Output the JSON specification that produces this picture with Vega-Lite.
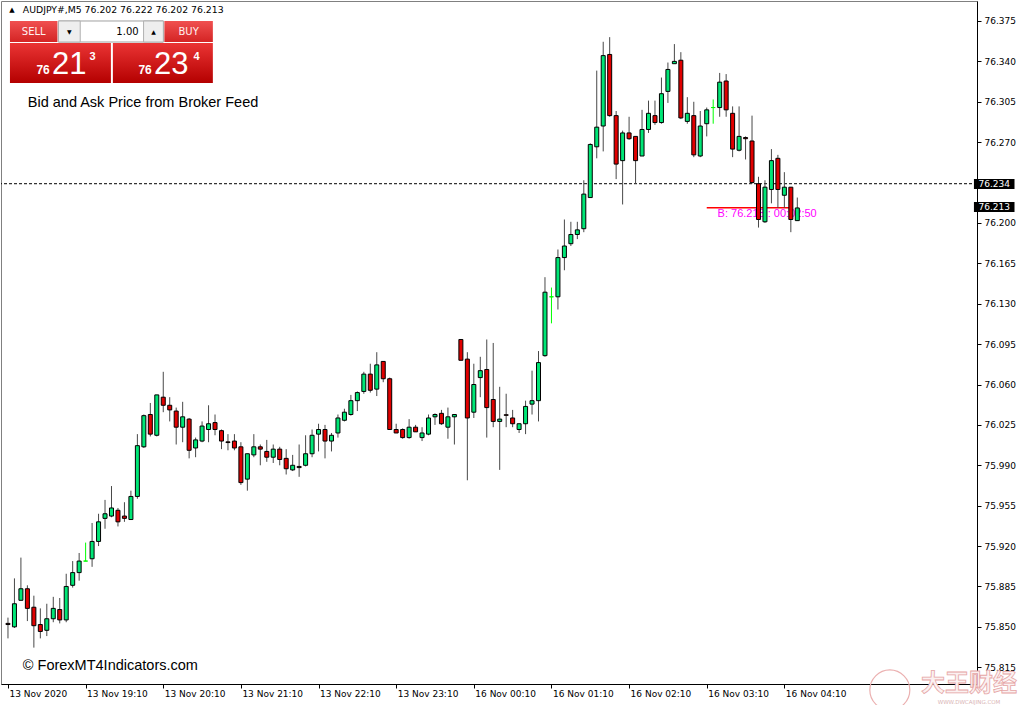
{
  "$schema": "https://vega.github.io/schema/vega-lite/v6.json",
  "width": 976,
  "height": 683,
  "autosize": "none",
  "padding": {"left": 1, "top": 1, "right": 47, "bottom": 21},
  "background": "white",
  "config": {
    "view": {"stroke": "#808080", "strokeWidth": 1},
    "font": "DejaVu Sans",
    "axis": {"labelFont": "DejaVu Sans", "labelFontSize": 9, "labelColor": "black", "domainColor": "black", "tickColor": "black", "grid": false, "title": null}
  },
  "data": {"values": [
    {"i":0,"o":75.853,"h":75.858,"l":75.840,"c":75.852},
    {"i":1,"o":75.850,"h":75.892,"l":75.849,"c":75.870},
    {"i":2,"o":75.873,"h":75.910,"l":75.873,"c":75.883},
    {"i":3,"o":75.883,"h":75.886,"l":75.855,"c":75.866},
    {"i":4,"o":75.867,"h":75.877,"l":75.832,"c":75.851},
    {"i":5,"o":75.852,"h":75.866,"l":75.840,"c":75.846},
    {"i":6,"o":75.847,"h":75.870,"l":75.842,"c":75.857},
    {"i":7,"o":75.857,"h":75.876,"l":75.854,"c":75.866},
    {"i":8,"o":75.865,"h":75.875,"l":75.853,"c":75.856},
    {"i":9,"o":75.856,"h":75.896,"l":75.854,"c":75.885},
    {"i":10,"o":75.886,"h":75.907,"l":75.884,"c":75.897},
    {"i":11,"o":75.897,"h":75.914,"l":75.890,"c":75.907},
    {"i":12,"o":75.907,"h":75.923,"l":75.907,"c":75.907},
    {"i":13,"o":75.909,"h":75.940,"l":75.902,"c":75.924},
    {"i":14,"o":75.924,"h":75.948,"l":75.920,"c":75.941},
    {"i":15,"o":75.944,"h":75.960,"l":75.935,"c":75.948},
    {"i":16,"o":75.946,"h":75.972,"l":75.945,"c":75.953},
    {"i":17,"o":75.951,"h":75.953,"l":75.937,"c":75.941},
    {"i":18,"o":75.946,"h":75.958,"l":75.941,"c":75.944},
    {"i":19,"o":75.943,"h":75.968,"l":75.943,"c":75.963},
    {"i":20,"o":75.963,"h":76.017,"l":75.961,"c":76.007},
    {"i":21,"o":76.006,"h":76.034,"l":76.005,"c":76.033},
    {"i":22,"o":76.034,"h":76.044,"l":76.015,"c":76.017},
    {"i":23,"o":76.016,"h":76.051,"l":76.015,"c":76.051},
    {"i":24,"o":76.049,"h":76.071,"l":76.036,"c":76.042},
    {"i":25,"o":76.042,"h":76.049,"l":76.028,"c":76.038},
    {"i":26,"o":76.037,"h":76.040,"l":76.008,"c":76.023},
    {"i":27,"o":76.023,"h":76.045,"l":76.010,"c":76.032},
    {"i":28,"o":76.030,"h":76.031,"l":75.996,"c":76.003},
    {"i":29,"o":76.005,"h":76.014,"l":75.997,"c":76.012},
    {"i":30,"o":76.011,"h":76.028,"l":76.010,"c":76.024},
    {"i":31,"o":76.021,"h":76.042,"l":76.010,"c":76.026},
    {"i":32,"o":76.027,"h":76.034,"l":76.016,"c":76.021},
    {"i":33,"o":76.020,"h":76.021,"l":76.004,"c":76.011},
    {"i":34,"o":76.0103,"h":76.017,"l":76.003,"c":76.0097},
    {"i":35,"o":76.011,"h":76.017,"l":76.003,"c":76.005},
    {"i":36,"o":76.006,"h":76.010,"l":75.973,"c":75.975},
    {"i":37,"o":75.978,"h":76.000,"l":75.968,"c":76.000},
    {"i":38,"o":75.999,"h":76.017,"l":75.997,"c":76.006},
    {"i":39,"o":76.006,"h":76.008,"l":75.990,"c":76.004},
    {"i":40,"o":76.002,"h":76.012,"l":75.993,"c":75.997},
    {"i":41,"o":75.997,"h":76.008,"l":75.992,"c":76.004},
    {"i":42,"o":76.004,"h":76.006,"l":75.990,"c":75.995},
    {"i":43,"o":75.996,"h":76.004,"l":75.982,"c":75.987},
    {"i":44,"o":75.986,"h":75.999,"l":75.985,"c":75.990},
    {"i":45,"o":75.989,"h":76.008,"l":75.980,"c":75.988},
    {"i":46,"o":75.990,"h":76.016,"l":75.989,"c":76.000},
    {"i":47,"o":76.000,"h":76.021,"l":75.997,"c":76.016},
    {"i":48,"o":76.017,"h":76.026,"l":76.002,"c":76.021},
    {"i":49,"o":76.021,"h":76.025,"l":75.996,"c":76.011},
    {"i":50,"o":76.011,"h":76.018,"l":76.002,"c":76.016},
    {"i":51,"o":76.018,"h":76.034,"l":76.014,"c":76.031},
    {"i":52,"o":76.029,"h":76.039,"l":76.028,"c":76.036},
    {"i":53,"o":76.034,"h":76.051,"l":76.033,"c":76.046},
    {"i":54,"o":76.046,"h":76.054,"l":76.037,"c":76.053},
    {"i":55,"o":76.054,"h":76.071,"l":76.052,"c":76.069},
    {"i":56,"o":76.069,"h":76.078,"l":76.053,"c":76.055},
    {"i":57,"o":76.056,"h":76.088,"l":76.050,"c":76.077},
    {"i":58,"o":76.080,"h":76.080,"l":76.062,"c":76.065},
    {"i":59,"o":76.065,"h":76.066,"l":76.021,"c":76.021},
    {"i":60,"o":76.021,"h":76.026,"l":76.018,"c":76.018},
    {"i":61,"o":76.021,"h":76.022,"l":76.013,"c":76.014},
    {"i":62,"o":76.014,"h":76.030,"l":76.013,"c":76.023},
    {"i":63,"o":76.023,"h":76.025,"l":76.019,"c":76.019},
    {"i":64,"o":76.014,"h":76.023,"l":76.011,"c":76.018},
    {"i":65,"o":76.017,"h":76.034,"l":76.016,"c":76.031},
    {"i":66,"o":76.032,"h":76.035,"l":76.025,"c":76.034},
    {"i":67,"o":76.035,"h":76.038,"l":76.025,"c":76.026},
    {"i":68,"o":76.023,"h":76.040,"l":76.013,"c":76.032},
    {"i":69,"o":76.032,"h":76.034,"l":76.008,"c":76.034},
    {"i":70,"o":76.099,"h":76.099,"l":76.081,"c":76.081},
    {"i":71,"o":76.082,"h":76.088,"l":75.977,"c":76.031},
    {"i":72,"o":76.036,"h":76.078,"l":76.031,"c":76.060},
    {"i":73,"o":76.066,"h":76.084,"l":76.049,"c":76.072},
    {"i":74,"o":76.073,"h":76.099,"l":76.014,"c":76.040},
    {"i":75,"o":76.047,"h":76.096,"l":76.023,"c":76.028},
    {"i":76,"o":76.028,"h":76.058,"l":75.986,"c":76.030},
    {"i":77,"o":76.0338,"h":76.052,"l":76.023,"c":76.0333},
    {"i":78,"o":76.031,"h":76.038,"l":76.023,"c":76.026},
    {"i":79,"o":76.021,"h":76.026,"l":76.018,"c":76.026},
    {"i":80,"o":76.026,"h":76.046,"l":76.017,"c":76.041},
    {"i":81,"o":76.043,"h":76.072,"l":76.034,"c":76.046},
    {"i":82,"o":76.046,"h":76.089,"l":76.028,"c":76.079},
    {"i":83,"o":76.085,"h":76.153,"l":76.084,"c":76.140},
    {"i":84,"o":76.136,"h":76.144,"l":76.113,"c":76.136},
    {"i":85,"o":76.136,"h":76.177,"l":76.125,"c":76.170},
    {"i":86,"o":76.170,"h":76.203,"l":76.159,"c":76.180},
    {"i":87,"o":76.182,"h":76.201,"l":76.180,"c":76.190},
    {"i":88,"o":76.190,"h":76.201,"l":76.186,"c":76.194},
    {"i":89,"o":76.195,"h":76.237,"l":76.192,"c":76.225},
    {"i":90,"o":76.222,"h":76.269,"l":76.222,"c":76.268},
    {"i":91,"o":76.266,"h":76.332,"l":76.256,"c":76.283},
    {"i":92,"o":76.284,"h":76.357,"l":76.262,"c":76.345},
    {"i":93,"o":76.346,"h":76.361,"l":76.292,"c":76.293},
    {"i":94,"o":76.293,"h":76.297,"l":76.238,"c":76.251},
    {"i":95,"o":76.254,"h":76.280,"l":76.216,"c":76.278},
    {"i":96,"o":76.278,"h":76.292,"l":76.272,"c":76.273},
    {"i":97,"o":76.275,"h":76.275,"l":76.234,"c":76.254},
    {"i":98,"o":76.258,"h":76.298,"l":76.258,"c":76.281},
    {"i":99,"o":76.281,"h":76.306,"l":76.278,"c":76.295},
    {"i":100,"o":76.293,"h":76.306,"l":76.285,"c":76.287},
    {"i":101,"o":76.287,"h":76.326,"l":76.286,"c":76.312},
    {"i":102,"o":76.314,"h":76.339,"l":76.304,"c":76.333},
    {"i":103,"o":76.338,"h":76.355,"l":76.338,"c":76.340},
    {"i":104,"o":76.341,"h":76.348,"l":76.290,"c":76.291},
    {"i":105,"o":76.288,"h":76.309,"l":76.286,"c":76.295},
    {"i":106,"o":76.293,"h":76.305,"l":76.257,"c":76.259},
    {"i":107,"o":76.258,"h":76.297,"l":76.257,"c":76.284},
    {"i":108,"o":76.286,"h":76.300,"l":76.275,"c":76.298},
    {"i":109,"o":76.300,"h":76.307,"l":76.286,"c":76.300},
    {"i":110,"o":76.300,"h":76.330,"l":76.292,"c":76.322},
    {"i":111,"o":76.323,"h":76.329,"l":76.292,"c":76.298},
    {"i":112,"o":76.295,"h":76.301,"l":76.257,"c":76.264},
    {"i":113,"o":76.263,"h":76.301,"l":76.262,"c":76.275},
    {"i":114,"o":76.274,"h":76.275,"l":76.255,"c":76.273},
    {"i":115,"o":76.271,"h":76.293,"l":76.234,"c":76.235},
    {"i":116,"o":76.234,"h":76.240,"l":76.196,"c":76.203},
    {"i":117,"o":76.201,"h":76.237,"l":76.200,"c":76.231},
    {"i":118,"o":76.229,"h":76.264,"l":76.217,"c":76.254},
    {"i":119,"o":76.256,"h":76.259,"l":76.213,"c":76.229},
    {"i":120,"o":76.224,"h":76.244,"l":76.213,"c":76.231},
    {"i":121,"o":76.231,"h":76.231,"l":76.192,"c":76.203},
    {"i":122,"o":76.202,"h":76.222,"l":76.202,"c":76.213}
  ]},
  "layer": [
    {
      "data": {"values": [{}]},
      "mark": {"type": "rule", "color": "black", "strokeWidth": 1, "strokeDash": [3, 2]},
      "encoding": {"y": {"datum": 76.234, "type": "quantitative"}}
    },
    {
      "data": {"values": [{}]},
      "mark": {"type": "rule", "color": "#ff0000", "strokeWidth": 1.5},
      "encoding": {
        "x": {"datum": 108.0, "type": "quantitative"},
        "x2": {"datum": 121.2},
        "y": {"datum": 76.2132, "type": "quantitative"}
      }
    },
    {
      "data": {"values": [{}]},
      "mark": {"type": "text", "text": "B: 76.213 : 00:02:50", "font": "Liberation Sans", "fontSize": 11, "color": "#ff00ff", "align": "left", "baseline": "middle"},
      "encoding": {
        "x": {"datum": 109.68, "type": "quantitative"},
        "y": {"datum": 76.2078, "type": "quantitative"}
      }
    },
    {
      "mark": {"type": "rule", "strokeWidth": 1},
      "encoding": {
        "x": {
          "field": "i", "type": "quantitative",
          "scale": {"domain": [-0.306, 149.0], "nice": false, "zero": false},
          "axis": {
            "orient": "bottom",
            "values": [0, 12, 24, 36, 48, 60, 72, 84, 96, 108, 120],
            "labelExpr": "['13 Nov 2020','13 Nov 19:10','13 Nov 20:10','13 Nov 21:10','13 Nov 22:10','13 Nov 23:10','16 Nov 00:10','16 Nov 01:10','16 Nov 02:10','16 Nov 03:10','16 Nov 04:10'][round(datum.value/12)]",
            "labelAlign": "left",
            "labelBaseline": "top",
            "labelPadding": 1,
            "labelOffset": 1,
            "tickSize": 4,
            "labelOverlap": false,
            "labelFlush": false,
            "labelBound": false
          }
        },
        "y": {
          "field": "l", "type": "quantitative",
          "scale": {"domain": [75.80047, 76.39233], "nice": false, "zero": false},
          "axis": {
            "orient": "right",
            "values": [75.815, 75.85, 75.885, 75.92, 75.955, 75.99, 76.025, 76.06, 76.095, 76.13, 76.165, 76.2, 76.27, 76.305, 76.34, 76.375],
            "format": ".3f",
            "tickSize": 4,
            "labelPadding": 3,
            "labelAlign": "left",
            "labelBaseline": "middle",
            "labelOverlap": false,
            "labelFlush": false,
            "labelBound": false
          }
        },
        "y2": {"field": "h"},
        "color": {
          "condition": {"test": "datum.o == datum.c", "value": "#00ff00"},
          "value": "#484848"
        }
      }
    },
    {
      "mark": {"type": "bar", "size": 4, "strokeWidth": 1},
      "encoding": {
        "x": {"field": "i", "type": "quantitative"},
        "y": {"field": "o", "type": "quantitative"},
        "y2": {"field": "c"},
        "fill": {
          "condition": [
            {"test": "datum.o == datum.c", "value": "#00ff00"},
            {"test": "datum.c > datum.o", "value": "#00e676"}
          ],
          "value": "#e00000"
        },
        "stroke": {
          "condition": {"test": "datum.o == datum.c", "value": "#00ff00"},
          "value": "#000000"
        }
      }
    },
    {
      "data": {"values": [{}]},
      "mark": {"type": "text", "text": "▲", "fontSize": 7, "color": "black", "align": "center", "baseline": "middle"},
      "encoding": {
        "x": {"datum": 0.612, "type": "quantitative"},
        "y": {"datum": 76.3841, "type": "quantitative"}
      }
    },
    {
      "data": {"values": [{}]},
      "mark": {"type": "text", "text": "AUDJPY#,M5  76.202 76.222 76.202 76.213", "font": "DejaVu Sans", "fontSize": 9.3, "color": "black", "align": "left", "baseline": "middle"},
      "encoding": {
        "x": {"datum": 2.295, "type": "quantitative"},
        "y": {"datum": 76.3841, "type": "quantitative"}
      }
    },
    {
      "data": {"values": [{}]},
      "mark": {"type": "rect", "fill": {"gradient": "linear", "x1": 0, "y1": 0, "x2": 0, "y2": 1, "stops": [{"offset": 0, "color": "#f05050"}, {"offset": 1, "color": "#d42424"}]}},
      "encoding": {
        "x": {"datum": 0.306, "type": "quantitative"}, "x2": {"datum": 7.649},
        "y": {"datum": 76.375, "type": "quantitative"}, "y2": {"datum": 76.3568}
      }
    },
    {
      "data": {"values": [{}]},
      "mark": {"type": "rect", "fill": {"gradient": "linear", "x1": 0, "y1": 0, "x2": 0, "y2": 1, "stops": [{"offset": 0, "color": "#f05050"}, {"offset": 1, "color": "#d42424"}]}},
      "encoding": {
        "x": {"datum": 24.170, "type": "quantitative"}, "x2": {"datum": 31.666},
        "y": {"datum": 76.375, "type": "quantitative"}, "y2": {"datum": 76.3568}
      }
    },
    {
      "data": {"values": [{}]},
      "mark": {"type": "rect", "fill": "white", "stroke": "#a0a0a0", "strokeWidth": 1},
      "encoding": {
        "x": {"datum": 7.802, "type": "quantitative"}, "x2": {"datum": 24.017},
        "y": {"datum": 76.375, "type": "quantitative"}, "y2": {"datum": 76.3568}
      }
    },
    {
      "data": {"values": [{}]},
      "mark": {"type": "rect", "fill": "#eeeeee", "stroke": "#b0b0b0", "strokeWidth": 1},
      "encoding": {
        "x": {"datum": 7.802, "type": "quantitative"}, "x2": {"datum": 11.167},
        "y": {"datum": 76.375, "type": "quantitative"}, "y2": {"datum": 76.3568}
      }
    },
    {
      "data": {"values": [{}]},
      "mark": {"type": "rect", "fill": "#eeeeee", "stroke": "#b0b0b0", "strokeWidth": 1},
      "encoding": {
        "x": {"datum": 20.958, "type": "quantitative"}, "x2": {"datum": 24.017},
        "y": {"datum": 76.375, "type": "quantitative"}, "y2": {"datum": 76.3568}
      }
    },
    {
      "data": {"values": [{}]},
      "mark": {"type": "rect", "fill": {"gradient": "linear", "x1": 0, "y1": 0, "x2": 0, "y2": 1, "stops": [{"offset": 0, "color": "#ea3434"}, {"offset": 1, "color": "#b40000"}]}},
      "encoding": {
        "x": {"datum": 0.306, "type": "quantitative"}, "x2": {"datum": 15.909},
        "y": {"datum": 76.35594, "type": "quantitative"}, "y2": {"datum": 76.32127}
      }
    },
    {
      "data": {"values": [{}]},
      "mark": {"type": "rect", "fill": {"gradient": "linear", "x1": 0, "y1": 0, "x2": 0, "y2": 1, "stops": [{"offset": 0, "color": "#ea3434"}, {"offset": 1, "color": "#b40000"}]}},
      "encoding": {
        "x": {"datum": 16.215, "type": "quantitative"}, "x2": {"datum": 31.666},
        "y": {"datum": 76.35594, "type": "quantitative"}, "y2": {"datum": 76.32127}
      }
    },
    {
      "data": {"values": [{}]},
      "mark": {"type": "text", "text": "SELL", "font": "DejaVu Sans", "fontSize": 10, "color": "#fff0f0", "align": "center", "baseline": "middle"},
      "encoding": {"x": {"datum": 3.977, "type": "quantitative"}, "y": {"datum": 76.3655, "type": "quantitative"}}
    },
    {
      "data": {"values": [{}]},
      "mark": {"type": "text", "text": "BUY", "font": "DejaVu Sans", "fontSize": 10, "color": "#fff0f0", "align": "center", "baseline": "middle"},
      "encoding": {"x": {"datum": 27.918, "type": "quantitative"}, "y": {"datum": 76.3655, "type": "quantitative"}}
    },
    {
      "data": {"values": [{}]},
      "mark": {"type": "text", "text": "1.00", "font": "DejaVu Sans", "fontSize": 10, "color": "black", "align": "right", "baseline": "middle"},
      "encoding": {"x": {"datum": 20.193, "type": "quantitative"}, "y": {"datum": 76.3655, "type": "quantitative"}}
    },
    {
      "data": {"values": [{}]},
      "mark": {"type": "text", "text": "▼", "fontSize": 6, "color": "black", "align": "center", "baseline": "middle"},
      "encoding": {"x": {"datum": 9.484, "type": "quantitative"}, "y": {"datum": 76.3655, "type": "quantitative"}}
    },
    {
      "data": {"values": [{}]},
      "mark": {"type": "text", "text": "▲", "fontSize": 6, "color": "black", "align": "center", "baseline": "middle"},
      "encoding": {"x": {"datum": 22.487, "type": "quantitative"}, "y": {"datum": 76.3655, "type": "quantitative"}}
    },
    {
      "data": {"values": [{}]},
      "mark": {"type": "text", "text": "76", "font": "Liberation Sans", "fontWeight": "bold", "fontSize": 12, "color": "white", "align": "center", "baseline": "alphabetic"},
      "encoding": {"x": {"datum": 5.431, "type": "quantitative"}, "y": {"datum": 76.32907, "type": "quantitative"}}
    },
    {
      "data": {"values": [{}]},
      "mark": {"type": "text", "text": "21", "font": "Liberation Sans", "fontSize": 31, "color": "white", "align": "center", "baseline": "alphabetic"},
      "encoding": {"x": {"datum": 9.484, "type": "quantitative"}, "y": {"datum": 76.32907, "type": "quantitative"}}
    },
    {
      "data": {"values": [{}]},
      "mark": {"type": "text", "text": "3", "font": "Liberation Sans", "fontWeight": "bold", "fontSize": 11, "color": "white", "align": "center", "baseline": "alphabetic"},
      "encoding": {"x": {"datum": 13.08, "type": "quantitative"}, "y": {"datum": 76.3412, "type": "quantitative"}}
    },
    {
      "data": {"values": [{}]},
      "mark": {"type": "text", "text": "76", "font": "Liberation Sans", "fontWeight": "bold", "fontSize": 12, "color": "white", "align": "center", "baseline": "alphabetic"},
      "encoding": {"x": {"datum": 21.187, "type": "quantitative"}, "y": {"datum": 76.32907, "type": "quantitative"}}
    },
    {
      "data": {"values": [{}]},
      "mark": {"type": "text", "text": "23", "font": "Liberation Sans", "fontSize": 31, "color": "white", "align": "center", "baseline": "alphabetic"},
      "encoding": {"x": {"datum": 25.241, "type": "quantitative"}, "y": {"datum": 76.32907, "type": "quantitative"}}
    },
    {
      "data": {"values": [{}]},
      "mark": {"type": "text", "text": "4", "font": "Liberation Sans", "fontWeight": "bold", "fontSize": 11, "color": "white", "align": "center", "baseline": "alphabetic"},
      "encoding": {"x": {"datum": 29.142, "type": "quantitative"}, "y": {"datum": 76.3412, "type": "quantitative"}}
    },
    {
      "data": {"values": [{}]},
      "mark": {"type": "text", "text": "Bid and Ask Price from Broker Feed", "font": "Liberation Sans", "fontSize": 14.5, "color": "black", "align": "left", "baseline": "middle"},
      "encoding": {"x": {"datum": 3.06, "type": "quantitative"}, "y": {"datum": 76.3040, "type": "quantitative"}}
    },
    {
      "data": {"values": [{}]},
      "mark": {"type": "text", "text": "© ForexMT4Indicators.com", "font": "Liberation Sans", "fontSize": 14.5, "color": "black", "align": "left", "baseline": "middle"},
      "encoding": {"x": {"datum": 2.295, "type": "quantitative"}, "y": {"datum": 75.81608, "type": "quantitative"}}
    },
    {
      "data": {"values": [{}]},
      "mark": {"type": "rect", "fill": "black"},
      "encoding": {
        "x": {"datum": 149.30, "type": "quantitative"}, "x2": {"datum": 155.57},
        "y": {"datum": 76.2381, "type": "quantitative"}, "y2": {"datum": 76.2294}
      }
    },
    {
      "data": {"values": [{}]},
      "mark": {"type": "text", "text": "76.234", "font": "DejaVu Sans", "fontSize": 9, "color": "white", "align": "center", "baseline": "middle"},
      "encoding": {"x": {"datum": 152.44, "type": "quantitative"}, "y": {"datum": 76.2338, "type": "quantitative"}}
    },
    {
      "data": {"values": [{}]},
      "mark": {"type": "rect", "fill": "black"},
      "encoding": {
        "x": {"datum": 149.30, "type": "quantitative"}, "x2": {"datum": 155.57},
        "y": {"datum": 76.2182, "type": "quantitative"}, "y2": {"datum": 76.2095}
      }
    },
    {
      "data": {"values": [{}]},
      "mark": {"type": "text", "text": "76.213", "font": "DejaVu Sans", "fontSize": 9, "color": "white", "align": "center", "baseline": "middle"},
      "encoding": {"x": {"datum": 152.44, "type": "quantitative"}, "y": {"datum": 76.2138, "type": "quantitative"}}
    },
    {
      "data": {"values": [{}]},
      "mark": {"type": "point", "shape": "circle", "size": 1600, "filled": false, "stroke": "#ebb0b0", "strokeWidth": 1.2, "opacity": 1},
      "encoding": {"x": {"datum": 136.3, "type": "quantitative"}, "y": {"datum": 75.7953, "type": "quantitative"}}
    },
    {
      "data": {"values": [{}]},
      "mark": {"type": "text", "text": "大王财经", "font": "Noto Sans CJK SC", "fontWeight": "bold", "fontSize": 24, "fill": "#fbf1f1", "stroke": "#e6a6a6", "strokeWidth": 0.8, "align": "center", "baseline": "middle"},
      "encoding": {"x": {"datum": 148.54, "type": "quantitative"}, "y": {"datum": 75.8005, "type": "quantitative"}}
    },
    {
      "data": {"values": [{}]},
      "mark": {"type": "text", "text": "WWW.DWCAIJING.COM", "font": "DejaVu Sans", "fontSize": 5.5, "color": "#d9b4b4", "align": "center", "baseline": "middle"},
      "encoding": {"x": {"datum": 148.54, "type": "quantitative"}, "y": {"datum": 75.7852, "type": "quantitative"}}
    }
  ]
}
